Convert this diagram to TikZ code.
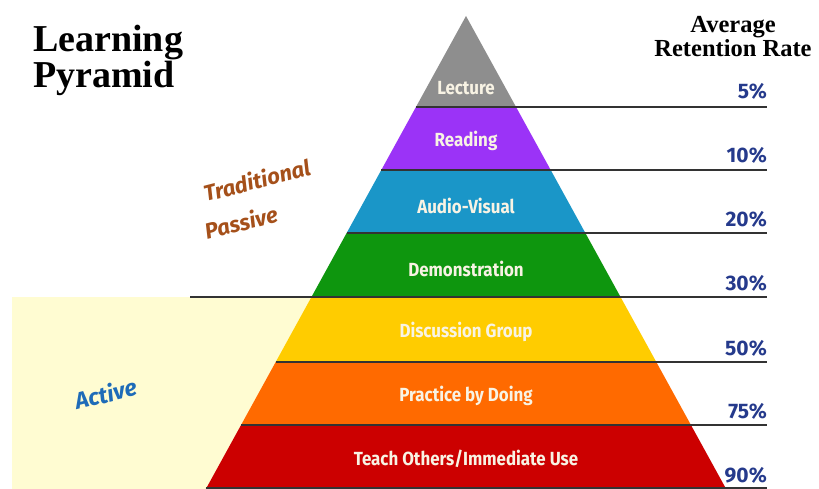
\documentclass[tikz,border=0pt]{standalone}
\usepackage{fontspec}
\setmainfont{Liberation Serif}
\newfontfamily\labfont{Fira Sans}[FakeStretch=0.89]
\newfontfamily\pctfont{Fira Sans}
\definecolor{cGrey}{HTML}{8E8E8E}
\definecolor{cPurple}{HTML}{9B33F7}
\definecolor{cBlue}{HTML}{1A96C8}
\definecolor{cGreen}{HTML}{0E960E}
\definecolor{cYellow}{HTML}{FFCC00}
\definecolor{cOrange}{HTML}{FF6A00}
\definecolor{cRed}{HTML}{CC0000}
\definecolor{cCream}{HTML}{FFFCD2}
\definecolor{cNavy}{HTML}{253A8C}
\definecolor{cBrown}{HTML}{A5501A}
\definecolor{cActive}{HTML}{1E6BB8}
\definecolor{cLabText}{HTML}{F8F3E4}
\tikzset{
  lab/.style={text=cLabText, font=\labfont\bfseries\fontsize{19}{19}\selectfont, inner sep=0pt},
  pct/.style={text=cNavy, font=\pctfont\bfseries\fontsize{21}{21}\selectfont, inner sep=0pt, anchor=base east},
  sepline/.style={draw=black!80, line width=1.4pt},
  ttl/.style={font=\bfseries\fontsize{38}{38}\selectfont, inner sep=0pt, anchor=base west},
  hdr/.style={font=\bfseries\fontsize{24.5}{24.5}\selectfont, inner sep=0pt, anchor=base},
  side/.style={font=\pctfont\bfseries\itshape\fontsize{22}{22}\selectfont, inner sep=0pt, anchor=base west}
}
\begin{document}
\begin{tikzpicture}[x=1pt,y=-1pt]
\useasboundingbox (0,0) rectangle (819,489);
\fill[white] (0,0) rectangle (819,489);
% active background
\fill[cCream] (12,297) -- (311.45,297) -- (205.85,489) -- (12,489) -- cycle;
% pyramid layers
\fill[cGrey]   (466,16) -- (516.05,107) -- (415.95,107) -- cycle;
\fill[cPurple] (415.95,107) -- (516.05,107) -- (550.7,170) -- (381.3,170) -- cycle;
\fill[cBlue]   (381.3,170) -- (550.7,170) -- (585.35,233) -- (346.65,233) -- cycle;
\fill[cGreen]  (346.65,233) -- (585.35,233) -- (620.55,297) -- (311.45,297) -- cycle;
\fill[cYellow] (311.45,297) -- (620.55,297) -- (656.3,362) -- (275.7,362) -- cycle;
\fill[cOrange] (275.7,362) -- (656.3,362) -- (690.95,425) -- (241.05,425) -- cycle;
\fill[cRed]    (241.05,425) -- (690.95,425) -- (726.15,489) -- (205.85,489) -- cycle;
% separator lines
\coordinate (e1) at (767,107);
\coordinate (e2) at (767,170);
\coordinate (e3) at (767,233);
\coordinate (e4) at (767,297);
\coordinate (e5) at (767,362);
\coordinate (e6) at (767,425);
\coordinate (e7) at (767,488);
\draw[sepline] (415.95,107) -- (e1);
\draw[sepline] (381.3,170) -- (e2);
\draw[sepline] (346.65,233) -- (e3);
\draw[sepline] (190,297) -- (e4);
\draw[sepline] (275.7,362) -- (e5);
\draw[sepline] (241.05,425) -- (e6);
\draw[sepline] (205.85,488) -- (e7);
% layer labels
\node[lab] (lecture) at (466,88) {Lecture};
\node[lab] (reading) at (466,141) {Reading};
\node[lab] (audio) at (466,206) {Audio-Visual};
\node[lab] (demo) at (466,269) {Demonstration};
\node[lab] (disc) at (466,332) {Discussion Group};
\node[lab] (prac) at (466,396) {Practice by Doing};
\node[lab] (teach) at (466,459) {Teach Others/Immediate Use};
% percentages
\node[pct] (p1) at (767,99) {5\%};
\node[pct] (p2) at (767,163) {10\%};
\node[pct] (p3) at (767,226) {20\%};
\node[pct] (p4) at (767,290) {30\%};
\node[pct] (p5) at (767,355) {50\%};
\node[pct] (p6) at (767,418) {75\%};
\node[pct] (p7) at (767,482) {90\%};
% titles
\node[ttl] (t1) at (33,52) {Learning};
\node[ttl] (t2) at (33,88) {Pyramid};
\node[hdr] (h1) at (733,33) {Average};
\node[hdr] (h2) at (733,57) {Retention Rate};
% side labels
\node[side, text=cBrown, rotate=14.5] (trad) at (206,202) {Traditional};
\node[side, text=cBrown, rotate=14.5] (pass) at (207,240) {Passive};
\node[side, text=cActive, rotate=14, font=\pctfont\bfseries\itshape\fontsize{23}{23}\selectfont] (act) at (77,410) {Active};
\end{tikzpicture}
\end{document}
